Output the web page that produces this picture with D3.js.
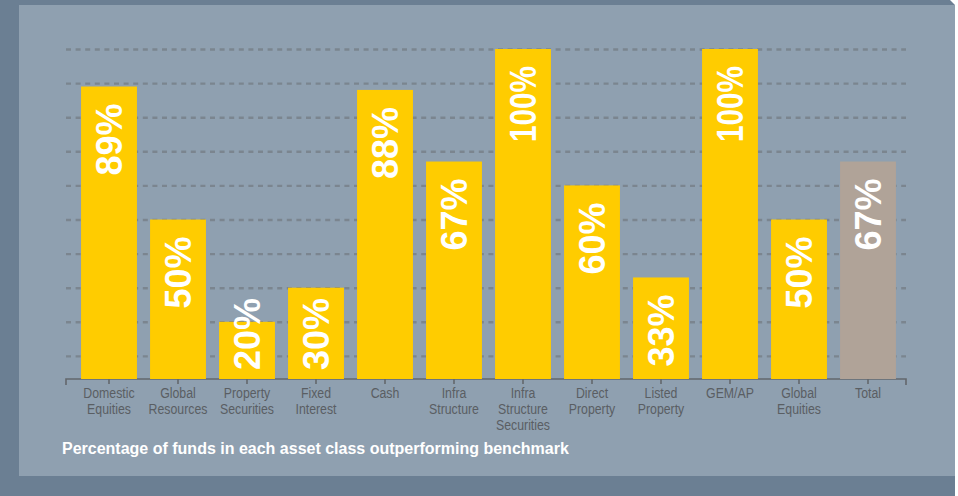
<!DOCTYPE html>
<html>
<head>
<meta charset="utf-8">
<script src="https://cdn.jsdelivr.net/npm/d3@7"></script>
<style>
  html, body { margin: 0; padding: 0; background: #ffffff; }
  svg { display: block; }
</style>
</head>
<body>
<div id="chart"></div>
<script>
const categories = ["Domestic\nEquities", "Global\nResources", "Property\nSecurities", "Fixed\nInterest",
    "Cash", "Infra\nStructure", "Infra\nStructure\nSecurities", "Direct\nProperty",
    "Listed\nProperty", "GEM/AP", "Global\nEquities", "Total"];
const values = [89, 50, 20, 30, 88, 67, 100, 60, 33, 100, 50, 67];
const gridTicks = [10, 20, 30, 40, 50, 60, 70, 80, 90, 100];
const highlight = "Total";
const caption = "Percentage of funds in each asset class outperforming benchmark";

const width = 958,
    height = 496;

const axisY = 379,
    axisLeft = 66,
    axisRight = 906;

const svg = d3.select("#chart")
    .append("svg")
    .attr("width", width)
    .attr("height", height);

// frame + panel
svg.append("path")
    .attr("d", "M0,0 L950,0 L955,5 L955,496 L0,496 Z")
    .attr("fill", "#6b7f93");
svg.append("rect")
    .attr("x", 19)
    .attr("y", 5)
    .attr("width", 936)
    .attr("height", 471)
    .attr("fill", "#8fa0b0");

let x = d3.scaleBand()
    .domain(categories)
    .range([74.5, 902.5])
    .paddingInner(0.19)
    .paddingOuter(0.095);

let y = d3.scaleLinear()
    .domain([0, 100])
    .range([390, 49]);

// dashed gridlines
let grid = svg.append("g")
    .attr("transform", `translate(${axisLeft},0)`)
    .call(d3.axisLeft(y).tickValues(gridTicks).tickSize(-(axisRight - axisLeft)).tickFormat(""));
grid.select(".domain").remove();
grid.selectAll("line")
    .attr("stroke", "#7b858f")
    .attr("stroke-width", 2.4)
    .attr("stroke-dasharray", "5,4.6");

// axis
let axis = svg.append("g")
    .attr("fill", "none")
    .attr("stroke", "#63676c")
    .attr("stroke-width", 1.6);
axis.append("path")
    .attr("d", `M${axisLeft},${axisY + 6}V${axisY}H${axisRight}V${axisY + 6}`);
axis.selectAll("line")
    .data(categories)
    .enter()
    .append("line")
    .attr("x1", d => x(d) + x.bandwidth() / 2)
    .attr("x2", d => x(d) + x.bandwidth() / 2)
    .attr("y1", axisY)
    .attr("y2", axisY + 5);

// bars
const data = categories.map((c, i) => ({ cat: c, value: values[i] }));

svg.append("g")
    .selectAll("rect")
    .data(data)
    .enter()
    .append("rect")
    .attr("x", d => x(d.cat))
    .attr("width", x.bandwidth())
    .attr("y", d => y(d.value))
    .attr("height", d => axisY - y(d.value))
    .attr("fill", d => d.cat === highlight ? "#b0a398" : "#ffcc00");

// value labels, rotated
const maxLabel = 76;
svg.append("g")
    .selectAll("text")
    .data(data)
    .enter()
    .append("text")
    .attr("font-family", "'Liberation Sans', Arial, Helvetica, sans-serif")
    .attr("font-weight", "bold")
    .attr("font-size", 36)
    .attr("fill", "#ffffff")
    .attr("dy", "0.36em")
    .text(d => d.value + "%")
    .each(function (d) {
        let t = d3.select(this);
        let len = this.getComputedTextLength();
        if (len > maxLabel) {
            t.attr("textLength", maxLabel).attr("lengthAdjust", "spacingAndGlyphs");
            len = maxLabel;
        }
        let cx = x(d.cat) + x.bandwidth() / 2;
        let top = y(d.value) + 17;
        if (top + len > axisY - 6) {
            t.attr("text-anchor", "start")
                .attr("transform", `translate(${cx},${axisY - 9}) rotate(-90)`);
        } else {
            t.attr("text-anchor", "end")
                .attr("transform", `translate(${cx},${top}) rotate(-90)`);
        }
    });

// category labels (no narrow font installed, so squeeze horizontally)
let labels = svg.append("g")
    .attr("font-family", "'Liberation Sans', Arial, Helvetica, sans-serif")
    .attr("font-size", 14.5)
    .attr("fill", "#5a5e63")
    .attr("text-anchor", "middle");

labels.selectAll("text")
    .data(categories)
    .enter()
    .append("text")
    .attr("transform", d => `translate(${x(d) + x.bandwidth() / 2},${axisY + 19}) scale(0.85,1)`)
    .each(function (d) {
        let t = d3.select(this);
        d.split("\n").forEach((line, i) => {
            t.append("tspan")
                .attr("x", 0)
                .attr("dy", i === 0 ? 0 : 16)
                .text(line);
        });
    });

// caption
svg.append("text")
    .attr("x", 62)
    .attr("y", 454)
    .attr("font-family", "'Liberation Sans', Arial, Helvetica, sans-serif")
    .attr("font-weight", "bold")
    .attr("font-size", 16)
    .attr("fill", "#ffffff")
    .text(caption);
</script>
</body>
</html>
